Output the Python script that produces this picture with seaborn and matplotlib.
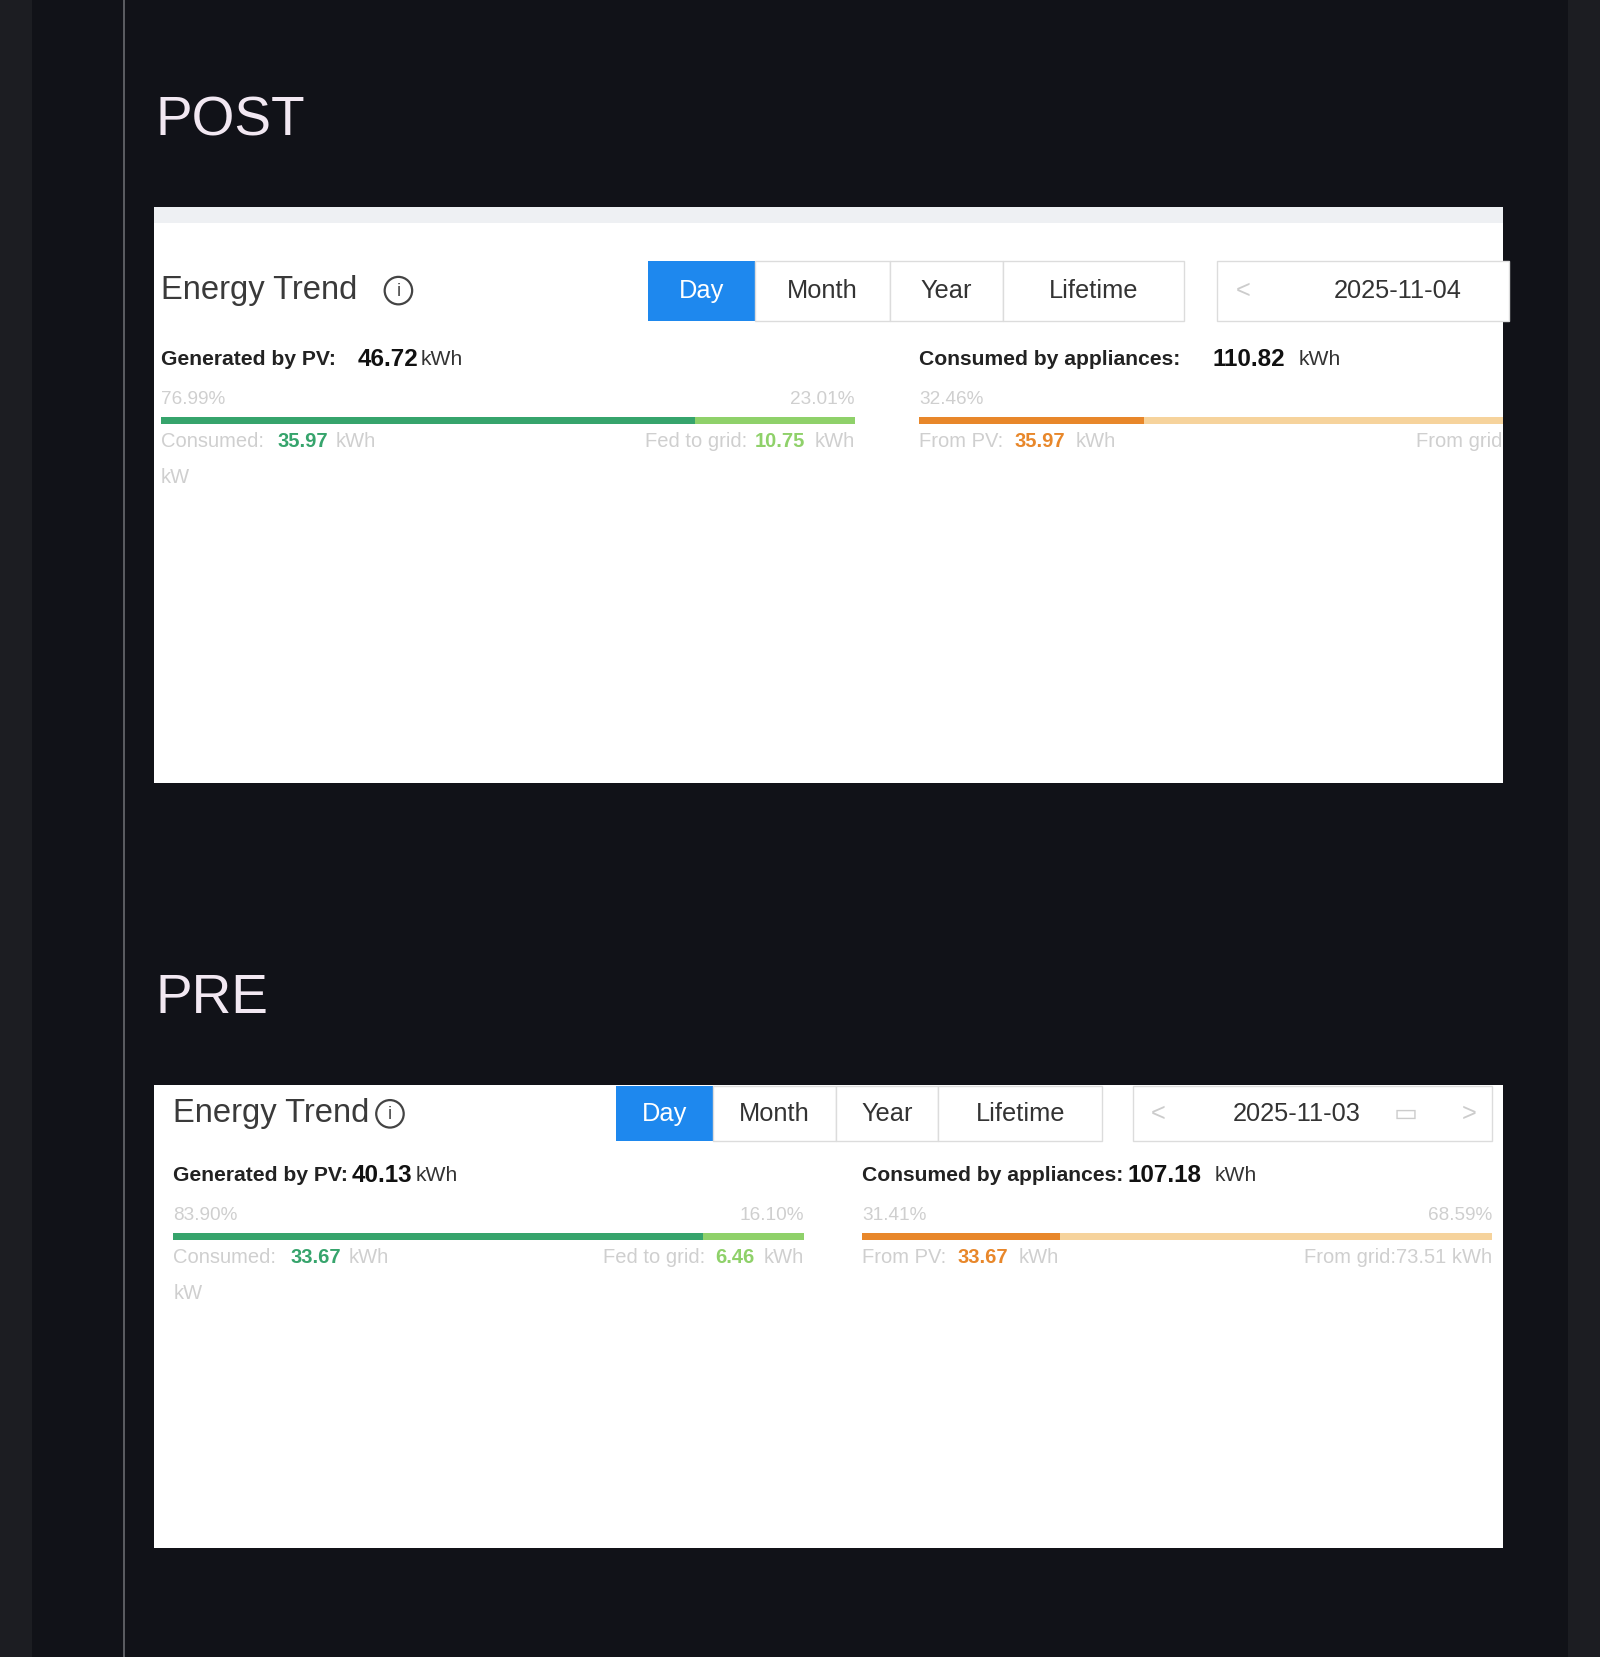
import numpy as np
import pandas as pd
import matplotlib
matplotlib.use("Agg")
import matplotlib.pyplot as plt
import seaborn as sns
from matplotlib.patches import Rectangle, Ellipse

sns.set_theme(style="white")
plt.rcParams['font.family'] = ['Liberation Sans', 'DejaVu Sans']

# ---- data (half-hour samples, kW) ----
minutes = np.arange(48) * 30
post_grid = [3, 2.2, 2, 4.5, 2.2, 2, 4.5, 2, 2.1, 2, 2.2, 2.3, 2.5, 3.5, 3, 3.2,
             6, 6.5, 6.5, 5, 3, 1.5, 0.5, -1, -2, -3, -4.5, -4.5, -4.3, -4, 0.5, 3,
             5, 5.5, 6.5, 6, 6.5, 6.5, 6.5, 4, 2.5, 2.5, 3.5, 2.5, 2.5, 2.5, 2.5, 2.5]
post_pv = [0]*16 + [0.3, 1, 2, 4, 6, 7.2, 8, 8.4, 8.7, 8.8, 8.7, 8.3, 7.8, 7.2, 4.5, 3.5,
                    1.5, 0.5, 0.3, 0.1] + [0]*12
post_load = [-3.5, -3, -3, -5.5, -3, -3, -5.5, -3, -2.8, -3, -3, -3, -3, -4, -3, -3.2,
             -6.5, -7, -7.5, -8.5, -8.8, -8.8, -9, -8, -7.5, -7.5, -3.5, -3.3, -3.3, -3, -6.5, -7,
             -7, -7.5, -7, -7, -7, -7, -7, -4, -3, -3.2, -5, -3, -3, -3, -3, -3]
pre_grid = [3, 2.5, 3, 5.5, 2.5, 2.5, 2.5, 3, 2.5, 2.5, 2.5, 2.5, 3, 2.5, 2.8, 3,
            6, 8, 4.5, 3, 1.5, 0.5, 0, -0.5, -1, -1, -1.5, -3, -2.5, -1.5, 3, 3.5,
            4.5, 5, 5.5, 6.5, 6, 6, 6, 6, 3, 3, 4.5, 3, 3, 3, 3, 3]
pre_pv = [0]*16 + [0.3, 0.7, 2, 3.5, 4.8, 5.8, 6.5, 6.9, 7.1, 7.1, 7, 6.7, 6.2, 5.5, 4.5, 3,
                   1.2, 0.4, 0.2, 0.1] + [0]*12
pre_load = [-3, -3.2, -3, -5.5, -3, -3, -3, -3, -5, -3, -3, -3, -3, -3, -3, -3.2,
            -6, -7, -6.5, -6.5, -6, -6, -6, -6.5, -6, -6, -3, -3, -2.8, -3, -7, -5.5,
            -5.5, -5.5, -6, -6, -6, -6, -6, -6, -3, -3, -5, -3, -3, -3, -3, -3.5]
post_ticks = ["00:00", "01:25", "02:50", "04:15", "05:40", "07:05", "08:30", "09:55",
              "11:20", "12:45", "14:10", "15:35", "17:00", "18:25", "19:50", "21:15"]
pre_ticks = ["00:00", "01:20", "02:40", "04:00", "05:20", "06:40", "08:00", "09:20", "10:40",
             "12:00", "13:20", "14:40", "16:00", "17:20", "18:40", "20:00", "21:20", "22:40"]

W, H = 1514, 1568
fig = plt.figure(figsize=(16, 16.57), dpi=100)
fig.patch.set_facecolor("#111218")
K = 1600 / W

def fx(x): return x / W
def fy(y): return 1 - y / H
def rect(x0, y0, x1, y1, fc, ec="none", lw=1, z=1):
    fig.patches.append(Rectangle((fx(x0), fy(y1)), fx(x1) - fx(x0), fy(y0) - fy(y1),
                                 transform=fig.transFigure, facecolor=fc, edgecolor=ec, lw=lw, zorder=z))
def T(x, y, s, size, color="#333333", ha="left", weight="normal"):
    fig.text(fx(x), fy(y), s, fontsize=size * K * 0.72, color=color, ha=ha, va="center",
             weight=weight, zorder=5)

# background
rect(0, 0, 30, H, "#1c1d22")
rect(1484, 0, W, H, "#1c1d22")
rect(116, 0, 118.5, H, "#5a5b60", z=2)
T(147, 115, "POST", 52, "#f2e8f2")
T(147, 945, "PRE", 52, "#f2e8f2")
rect(146, 196, 1422, 741, "white")
rect(146, 196, 1422, 211, "#eef0f3", z=2)
rect(146, 1027, 1422, 1465, "white")

def info(x, y):
    fig.patches.append(Ellipse((fx(x), fy(y)), 26 / W, 26 / H, transform=fig.transFigure,
                               facecolor="none", edgecolor="#444", lw=1.6, zorder=5))
    T(x, y + 1, "i", 17, "#444", ha="center")

def header(ty, tx, ix, btns, datebox, date, extra):
    T(tx, ty, "Energy Trend", 31, "#3a3a3a")
    info(ix, ty)
    (bx, y0, y1) = btns
    labels = ["Day", "Month", "Year", "Lifetime"]
    for i, lab in enumerate(labels):
        a, b = bx[i], bx[i + 1]
        if i == 0:
            rect(a, y0, b, y1, "#1e88ee", z=3)
            T((a + b) / 2, (y0 + y1) / 2, lab, 24, "white", ha="center")
        else:
            rect(a, y0, b, y1, "white", "#dcdcdc", 1, z=3)
            T((a + b) / 2, (y0 + y1) / 2, lab, 24, "#333", ha="center")
    d0, d1 = datebox
    rect(d0, y0, d1, y1, "white", "#dcdcdc", 1, z=3)
    T(d0 + 24, (y0 + y1) / 2, "<", 24, "#cccccc", ha="center")
    T(date[0], (y0 + y1) / 2, date[1], 24, "#333", ha="center")
    if extra:
        T(d1 - 82, (y0 + y1) / 2, "▭", 24, "#cccccc", ha="center")
        T(d1 - 22, (y0 + y1) / 2, ">", 24, "#cccccc", ha="center")

def stats(x0, x1, r0, r1, y, g):
    # g: dict of values
    T(x0, y, "Generated by PV:", 20, "#222", weight="bold")
    T(g["gx"], y, g["gen"], 23, "#111", weight="bold")
    T(g["gx"] + 60, y, "kWh", 20, "#333")
    T(x0, y + 38, g["p1"], 18, "#cfcfcf")
    T(x1, y + 38, g["p2"], 18, "#cfcfcf", ha="right")
    split = x0 + (x1 - x0) * g["f1"]
    rect(x0, y + 55, split, y + 61, "#36a46c", z=3)
    rect(split, y + 55, x1, y + 61, "#8fd16a", z=3)
    T(x0, y + 78, "Consumed:", 19, "#cfcfcf")
    T(x0 + 111, y + 78, g["cons"], 19, "#36a46c", weight="bold")
    T(x0 + 166, y + 78, "kWh", 19, "#cfcfcf")
    T(x1 - 47, y + 78, g["fed"], 19, "#8fd16a", ha="right", weight="bold")
    T(x1 - 102 - (0 if len(g["fed"]) > 4 else -8), y + 78, "Fed to grid:", 19, "#cfcfcf", ha="right")
    T(x1, y + 78, "kWh", 19, "#cfcfcf", ha="right")
    T(r0, y, "Consumed by appliances:", 20, "#222", weight="bold")
    T(g["ax"], y, g["app"], 23, "#111", weight="bold")
    T(g["ax"] + 82, y, "kWh", 20, "#333")
    T(r0, y + 38, g["p3"], 18, "#cfcfcf")
    if g["p4"]:
        T(r1, y + 38, g["p4"], 18, "#cfcfcf", ha="right")
    split = r0 + (r1 - r0) * g["f3"]
    rect(r0, y + 55, split, y + 61, "#e8872a", z=3)
    rect(split, y + 55, r1, y + 61, "#f6d39c", z=3)
    T(r0, y + 78, "From PV:", 19, "#cfcfcf")
    T(r0 + 90, y + 78, g["cons"], 19, "#e8872a", weight="bold")
    T(r0 + 148, y + 78, "kWh", 19, "#cfcfcf")
    T(r1, y + 78, g["grid"], 19, "#cfcfcf", ha="right")
    if g.get("gridv"):
        T(r1 - 47, y + 78, g["gridv"], 19, "#f6d39c", ha="right", weight="bold")
    T(x0, y + 112, "kW", 19, "#cfcfcf")

header(275, 152, 377, ([613, 714, 842, 949, 1120], 247, 304), (1152, 1428), (1323, "2025-11-04"), False)
stats(152, 809, 870, 1422, 340, dict(gx=338, gen="46.72", p1="76.99%", p2="23.01%", f1=0.77,
      cons="35.97", fed="10.75", ax=1147, app="110.82", p3="32.46%", p4="", f3=0.385,
      grid="From grid"))
header(1054, 164, 369, ([583, 675, 791, 888, 1043], 1028, 1080), (1072, 1412), (1227, "2025-11-03"), True)
stats(164, 761, 816, 1412, 1112, dict(gx=333, gen="40.13", p1="83.90%", p2="16.10%", f1=0.839,
      cons="33.67", fed="6.46", ax=1067, app="107.18", p3="31.41%", p4="68.59%", f3=0.314,
      grid="From grid:73.51 kWh", gridv=""))

def chart(x0, x1, ytop, ybot, yhi, ylo, xmax, yt, grid, pv, load, tlabels, step):
    ax = fig.add_axes([fx(x0), fy(ybot), fx(x1) - fx(x0), fy(ytop) - fy(ybot)])
    ax.set_facecolor("none")
    df = pd.DataFrame({"t": minutes, "grid": grid, "pv": pv, "load": load})
    ax.fill_between(df.t, 0, df.grid, color="#d9d9d9", alpha=0.35, lw=0)
    ax.fill_between(df.t, 0, df.pv, color="#bfead3", alpha=0.35, lw=0)
    ax.fill_between(df.t, 0, df.load, color="#fbd9bd", alpha=0.45, lw=0)
    sns.lineplot(data=df, x="t", y="grid", ax=ax, color="#c8c8c8", lw=1.3)
    sns.lineplot(data=df, x="t", y="load", ax=ax, color="#e8891e", lw=2.2)
    sns.lineplot(data=df, x="t", y="pv", ax=ax, color="#4cc08a", lw=2.2)
    ax.axhline(0, color="#888", lw=1, zorder=1)
    for v in yt:
        if v != 0:
            ax.axhline(v, color="#dddddd", lw=1, ls=(0, (3, 3)), zorder=0)
    ax.set_xlim(0, xmax)
    ax.set_ylim(ylo, yhi)
    ax.set_yticks(yt)
    ax.set_yticklabels([f"{v:g}" for v in yt])
    ax.set_xticks(np.arange(len(tlabels)) * step)
    ax.set_xticklabels(tlabels)
    ax.tick_params(colors="#aaaaaa", labelsize=19 * K * 0.72, length=0, pad=8)
    ax.set_xlabel(""); ax.set_ylabel("")
    for s in ax.spines.values():
        s.set_visible(False)

chart(215, 1420, 487, 666, 9, -13.5, 1332, [9, 4.5, 0, -4.5, -9, -13.5],
      post_grid, post_pv, post_load, post_ticks, 85)
chart(205, 1400, 1243, 1409, 10, -15, 1435, [10, 5, 0, -5, -10, -15],
      pre_grid, pre_pv, pre_load, pre_ticks, 80)

fig.savefig("out.png", dpi=100, facecolor=fig.get_facecolor())
